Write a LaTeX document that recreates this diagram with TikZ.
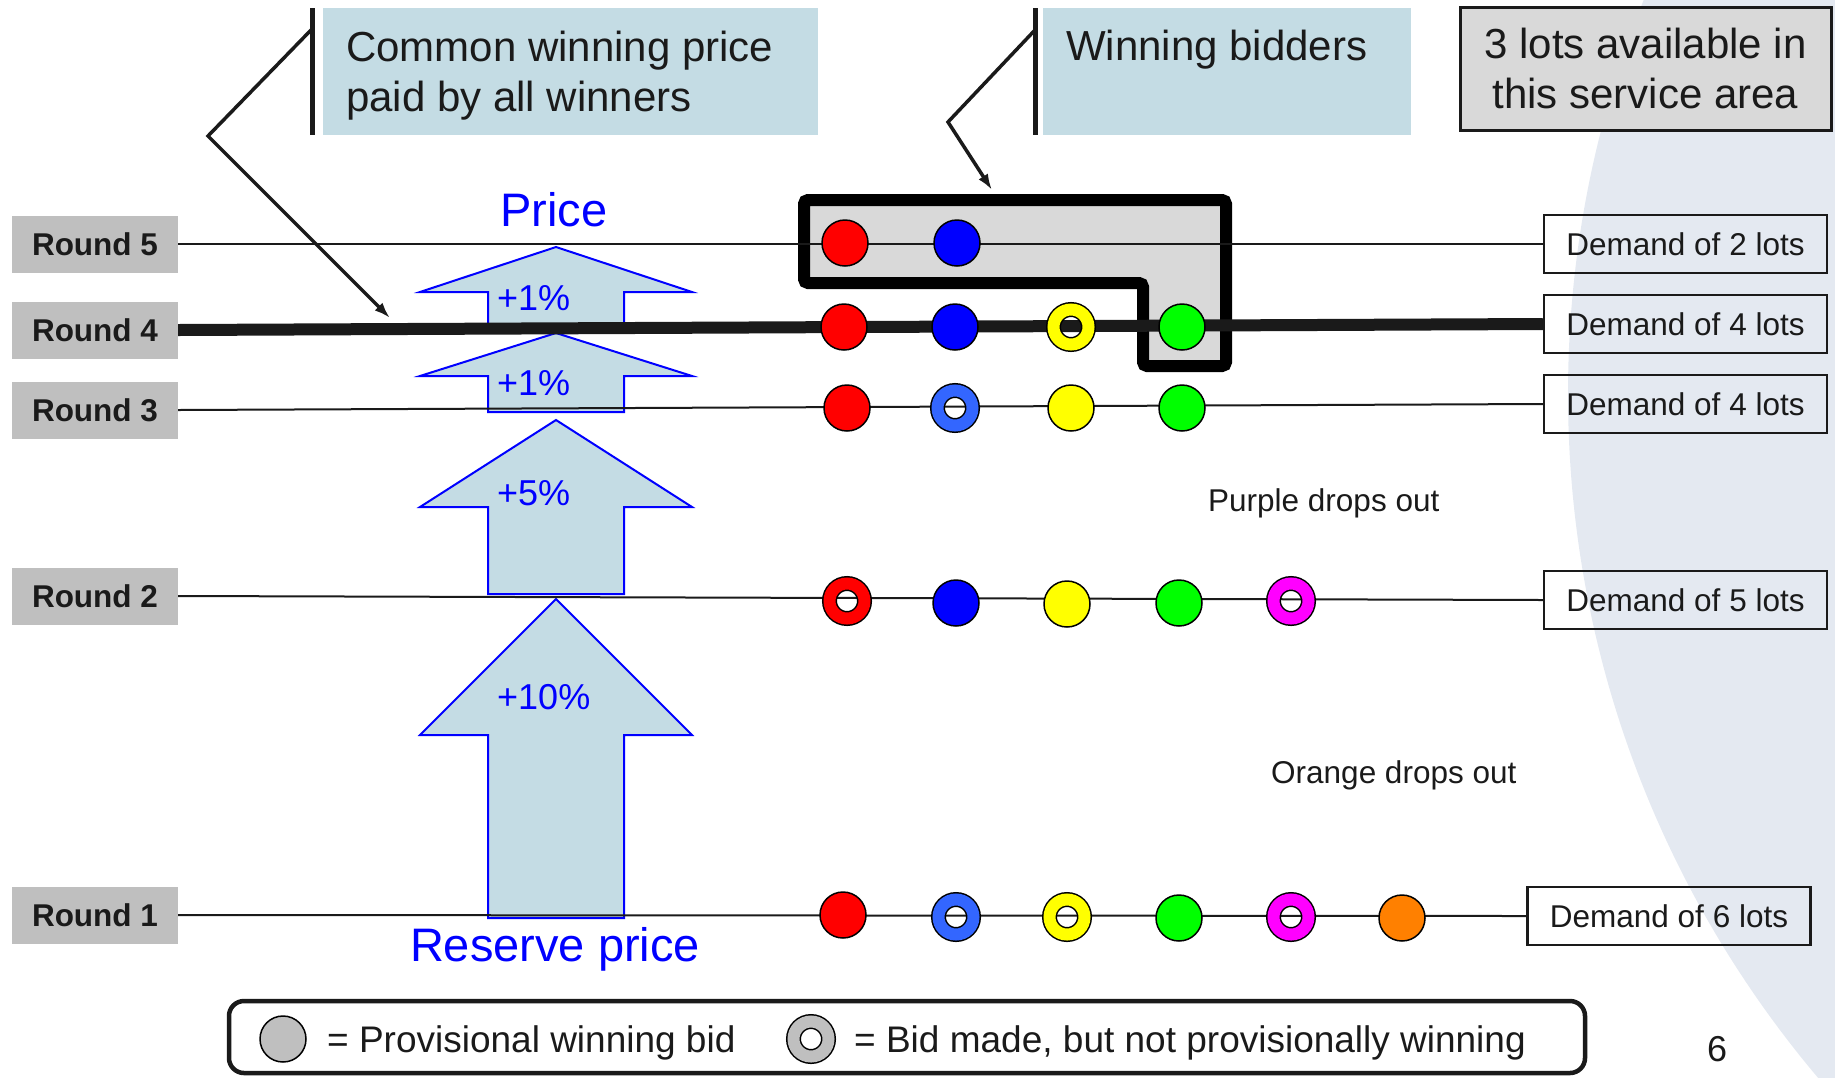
\documentclass[tikz,border=0pt]{standalone}
\usepackage{fontspec}
\setmainfont{Liberation Sans}
\usetikzlibrary{arrows.meta}
\definecolor{boxblue}{RGB}{196,220,228}
\definecolor{labgray}{RGB}{191,191,191}
\definecolor{framegray}{RGB}{217,217,217}
\definecolor{backdrop}{RGB}{228,233,241}
\definecolor{ringblue}{RGB}{51,102,255}
\definecolor{inkdark}{RGB}{26,26,26}
\definecolor{lotorange}{RGB}{255,128,0}
\definecolor{lotmagenta}{RGB}{255,0,255}
\definecolor{lotyellow}{RGB}{255,255,0}

\begin{document}
\begin{tikzpicture}[x=1pt,y=-1pt,
	roundlab/.style={fill=labgray,minimum width=166pt,minimum height=57pt,inner sep=0pt,text=inkdark,font=\fontsize{31.5}{38}\selectfont\bfseries},
	demand/.style={draw=inkdark,line width=2.5pt,minimum width=283pt,minimum height=58pt,inner sep=0pt,text=inkdark,font=\fontsize{31.5}{38}\selectfont},
	bid/.style={circle,draw=black,line width=1.5pt,fill=#1,minimum size=46pt,inner sep=0pt},
	hollow/.style={circle,draw=black,line width=1.5pt,double=#1,double distance=12pt,minimum size=35pt,inner sep=0pt},
	pricearrow/.style={draw=blue,line width=2pt,fill=boxblue},
	pct/.style={text=blue,inner sep=0pt,anchor=base west,font=\fontsize{36}{43}\selectfont},
	bigblue/.style={text=blue,inner sep=0pt,anchor=base,font=\fontsize{47}{56}\selectfont},
	infobox/.style={fill=boxblue,inner sep=0pt,anchor=north west},
	boxtext/.style={text=inkdark,inner sep=0pt,align=left,font=\fontsize{42}{50}\selectfont},
	callout/.style={line width=3.5pt,inkdark,-{Latex[length=16pt,width=11pt]}},
	note/.style={text=inkdark,inner sep=0pt,anchor=base west,font=\fontsize{31.5}{38}\selectfont},
	legtext/.style={text=inkdark,inner sep=0pt,anchor=base west,font=\fontsize{37}{44}\selectfont}]
	\useasboundingbox (0,0) rectangle (1835,1077);
	\begin{scope}
	\clip (0,0) rectangle (1835,1077);
	\fill[backdrop] (2628,394) circle (1060pt);
	\end{scope}

	\node[infobox,minimum width=495pt,minimum height=127pt] (pricebox) at (323,8) {};
	\node[boxtext,anchor=north west] (pricetext) at (346,31) {Common winning price\\paid by all winners};
	\node[infobox,minimum width=368pt,minimum height=127pt] (bidbox) at (1043,8) {};
	\node[boxtext,anchor=base west] (bidtext) at (1066,60) {Winning bidders};
	\node[draw=inkdark,line width=3pt,fill=framegray,minimum width=371pt,minimum height=123pt,inner sep=0pt,align=center,text=inkdark,font=\fontsize{42}{50}\selectfont] (lots) at (1645.5,68.5) {3 lots available in\\this service area};

	\draw[line width=12pt,fill=framegray,rounded corners=4pt] (804,200) -- (1226,200) -- (1226,366) -- (1143,366) -- (1143,283) -- (804,283) -- cycle;

	\foreach \tip/\head/\bot in {599/735/918,420/507/594,333/376/412,247/292/328}
	\draw[pricearrow] (556,\tip) -- (692,\head) -- (624,\head) -- (624,\bot) -- (488,\bot) -- (488,\head) -- (420,\head) -- cycle;
	\node[pct] (up10) at (497,709) {+10\%};
	\node[pct] (up5) at (497,505) {+5\%};
	\node[pct] (up1a) at (497,395) {+1\%};
	\node[pct] (up1b) at (497,310) {+1\%};
	\node[bigblue] (price) at (554,226) {Price};
	\node[bigblue] (reserve) at (555,961) {Reserve price};

	\foreach \n/\y in {5/244,4/330,3/410,2/596,1/915}
	\node[roundlab] (r\n) at (95,\y) {Round \n};
	\foreach \n/\y/\k in {5/244/2,4/324/4,3/404/4,2/600/5}
	\node[demand] (d\n) at (1685.5,\y) {Demand of \k\ lots};
	\node[demand] (d1) at (1669,916) {Demand of 6 lots};
	\foreach \n in {1,2,3,5}
	\draw[line width=2pt,inkdark] (r\n.east) -- (d\n.west);
	\draw[line width=12pt,inkdark] (r4.east) -- (d4.west);

	\node[bid=red] (r5red) at (845,243) {};
	\node[bid=blue] (r5blue) at (957,243) {};
	\node[bid=red] (r4red) at (844,327) {};
	\node[bid=blue] (r4blue) at (955,327) {};
	\node[hollow=lotyellow] (r4yellow) at (1071,327) {};
	\node[bid=green] (r4green) at (1182,327) {};
	\node[bid=red] (r3red) at (847,408) {};
	\node[hollow=ringblue] (r3blue) at (955,408) {};
	\node[bid=lotyellow] (r3yellow) at (1071,408) {};
	\node[bid=green] (r3green) at (1182,408) {};
	\node[hollow=red] (r2red) at (847,601) {};
	\node[bid=blue] (r2blue) at (956,603) {};
	\node[bid=lotyellow] (r2yellow) at (1067,604) {};
	\node[bid=green] (r2green) at (1179,603) {};
	\node[hollow=lotmagenta] (r2magenta) at (1291,601) {};
	\node[bid=red] (r1red) at (843,915) {};
	\node[hollow=ringblue] (r1blue) at (956,917) {};
	\node[hollow=lotyellow] (r1yellow) at (1067,917) {};
	\node[bid=green] (r1green) at (1179,918) {};
	\node[hollow=lotmagenta] (r1magenta) at (1291,917) {};
	\node[bid=lotorange] (r1orange) at (1402,918) {};

	\node[note] (purple) at (1208,511) {Purple drops out};
	\node[note] (orange) at (1271,783) {Orange drops out};

	\draw[line width=5pt,inkdark] ([xshift=-11pt]pricebox.north west) -- ([xshift=-11pt]pricebox.south west);
	\draw[line width=5pt,inkdark] ([xshift=-8pt]bidbox.north west) -- ([xshift=-8pt]bidbox.south west);
	\coordinate (pricebar) at (312,29);
	\coordinate (pricebend) at (208,136);
	\coordinate (pricetip) at (390,318);
	\coordinate (bidbar) at (1035,30);
	\coordinate (bidbend) at (948,122);
	\coordinate (bidtip) at (992,190);
	\draw[callout] (pricebar) -- (pricebend) -- (pricetip);
	\draw[callout] (bidbar) -- (bidbend) -- (bidtip);

	\node[draw=inkdark,line width=4.5pt,rounded corners=15pt,minimum width=1356pt,minimum height=72pt,inner sep=0pt] (legend) at (907,1037) {};
	\node[bid=labgray] (keywin) at (283,1039) {};
	\node[legtext] (keywintext) at (327,1052) {= Provisional winning bid};
	\node[hollow=labgray] (keylose) at (811,1039) {};
	\node[legtext] (keylosetext) at (854,1052) {= Bid made, but not provisionally winning};
	\node[text=inkdark,inner sep=0pt,anchor=base,font=\fontsize{36}{43}\selectfont] (page) at (1717,1061) {6};
\end{tikzpicture}
\end{document}
